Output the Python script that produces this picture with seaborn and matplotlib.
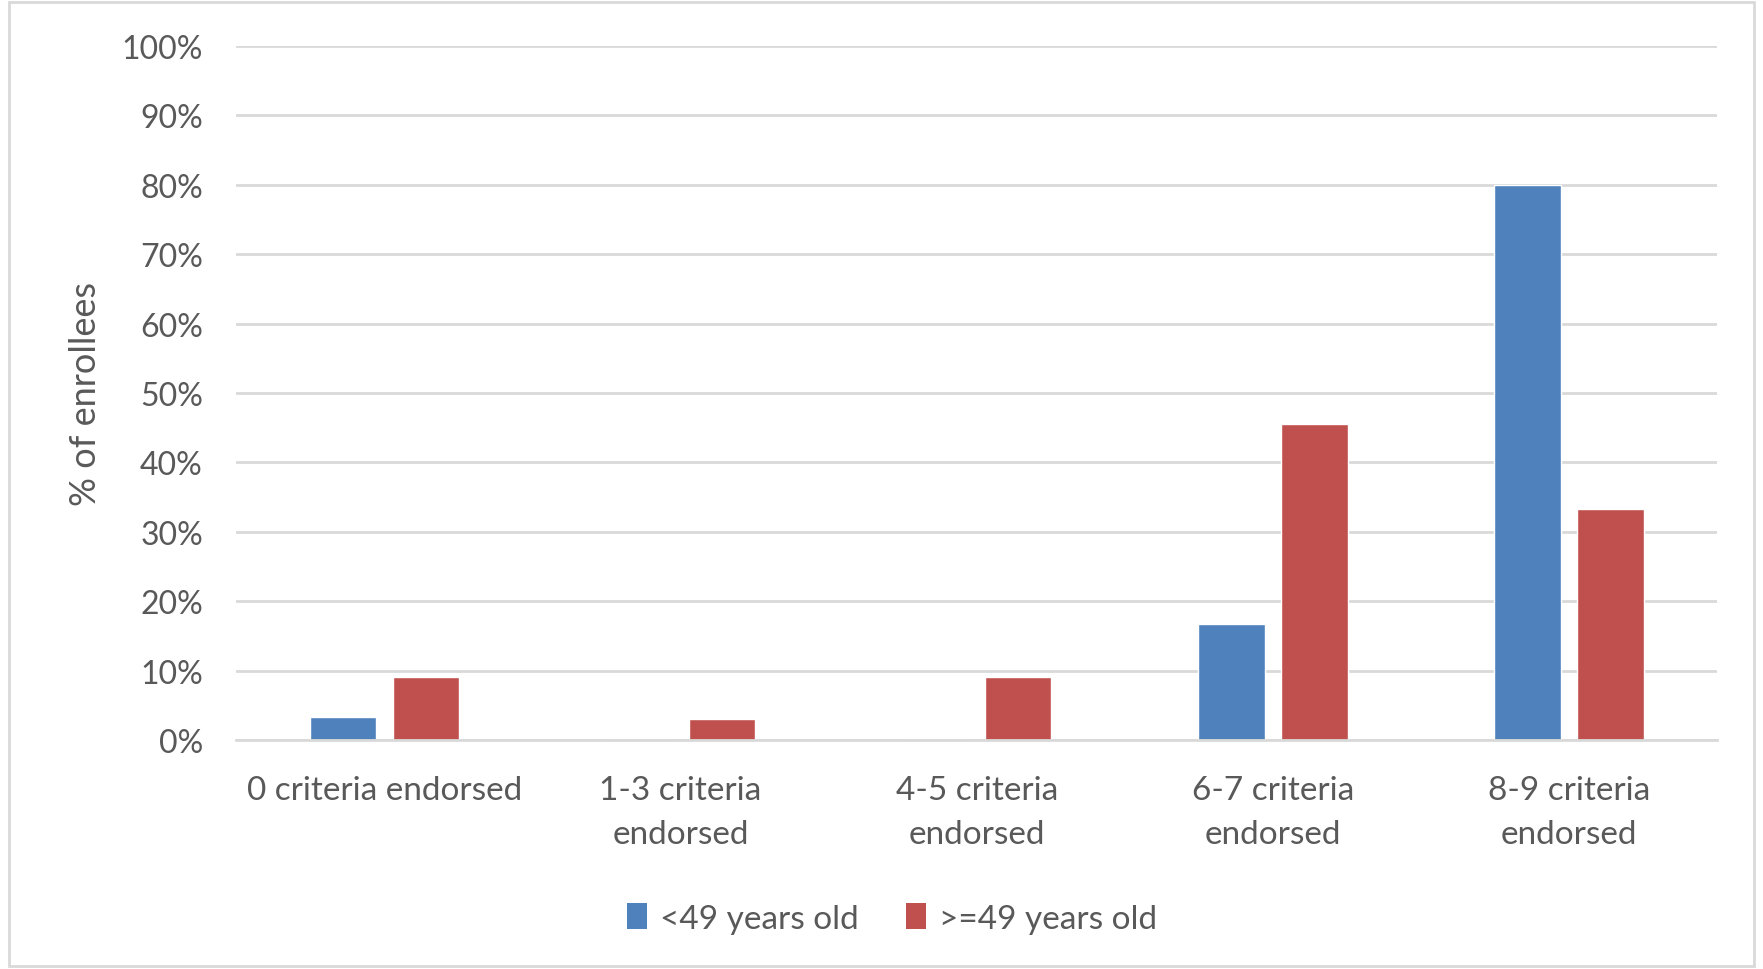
import matplotlib
matplotlib.use("Agg")
import matplotlib.pyplot as plt
import matplotlib.patches as mpatches
import seaborn as sns
import pandas as pd

# Share of enrollees by number of criteria endorsed, split by age group
categories = ["0 criteria endorsed", "1-3 criteria\nendorsed", "4-5 criteria\nendorsed",
              "6-7 criteria\nendorsed", "8-9 criteria\nendorsed"]
series_names = ["<49 years old", ">=49 years old"]
under_49 = [3.3, 0.0, 0.0, 16.7, 80.0]
over_49 = [9.1, 3.0, 9.1, 45.5, 33.3]
y_ticks = [0, 10, 20, 30, 40, 50, 60, 70, 80, 90, 100]
y_tick_labels = [f"{t}%" for t in y_ticks]

colors = ["#4F81BD", "#C0504D"]
text_color = "#595959"
grid_color = "#D9D9D9"

df = pd.DataFrame({
    "category": categories * 2,
    "group": [series_names[0]] * len(categories) + [series_names[1]] * len(categories),
    "value": under_49 + over_49,
})

sns.set_theme(style="white")
plt.rcParams["font.family"] = ["Lato", "DejaVu Sans"]

fig = plt.figure(figsize=(17.63, 9.70), dpi=100)
ax = fig.add_axes([0.134, 0.236, 0.840, 0.7155])

sns.barplot(data=df, x="category", y="value", hue="group", order=categories,
            hue_order=series_names, palette=colors, width=0.56, gap=0.2,
            saturation=1, legend=False, ax=ax, zorder=3)

ax.set_ylim(0, 100)
ax.set_xlim(-0.5, len(categories) - 0.5)
ax.set_yticks(y_ticks)
ax.set_yticklabels(y_tick_labels)
ax.yaxis.grid(True, color=grid_color, linewidth=2, zorder=0)
ax.set_axisbelow(True)
for side in ["top", "right", "left"]:
    ax.spines[side].set_visible(False)
ax.spines["bottom"].set_color(grid_color)
ax.spines["bottom"].set_linewidth(2)
ax.spines["bottom"].set_zorder(4)

ax.tick_params(axis="y", length=0, pad=24, labelsize=23, labelcolor=text_color)
ax.tick_params(axis="x", length=0, pad=25, labelsize=24, labelcolor=text_color)
for lbl in ax.get_xticklabels():
    lbl.set_linespacing(1.58)

ax.set_xlabel("")
ax.set_ylabel("% of enrollees", fontsize=26, color=text_color, labelpad=14)

handles = [mpatches.Patch(facecolor=c, edgecolor="none") for c in colors]
fig.legend(handles, series_names, loc="center", bbox_to_anchor=(0.506, 0.052),
           ncol=2, frameon=False, fontsize=24, labelcolor=text_color,
           handlelength=0.6, handleheight=0.8, handletextpad=0.4, columnspacing=1.4)

# Light chart-area border around the whole figure
fig.patches.append(mpatches.Rectangle((0.005, 0.003), 0.99, 0.994, transform=fig.transFigure,
                                      fill=False, edgecolor=grid_color, linewidth=2))

fig.savefig("out.png", dpi=100, facecolor="white")
